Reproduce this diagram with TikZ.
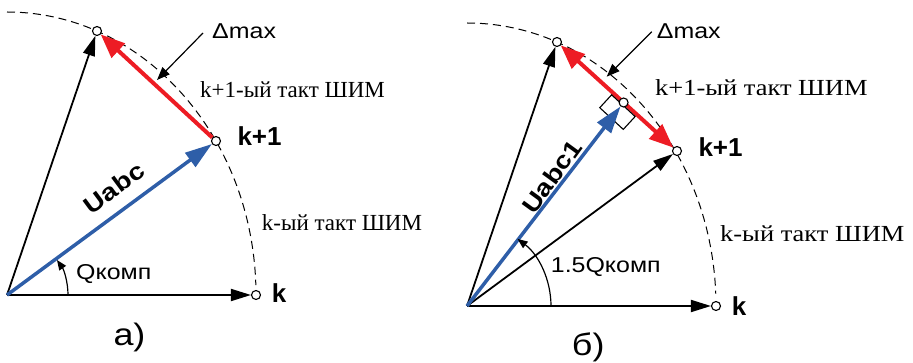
\documentclass[tikz,border=0pt]{standalone}
\usepackage{fontspec}
\setmainfont{Liberation Serif}
\newfontfamily\serifwide[FakeStretch=1.15]{Liberation Serif}
\newfontfamily\arialf[FakeStretch=1.16]{Liberation Sans}
\newfontfamily\arialb[FakeStretch=1.0]{Liberation Sans}
\usetikzlibrary{arrows.meta,calc,backgrounds}
\definecolor{vblue}{RGB}{46,94,168}
\definecolor{vred}{RGB}{237,28,36}
\tikzset{
  pt/.style={circle,draw,fill=white,inner sep=0pt,minimum size=9pt,line width=1.1pt},
  vec/.style={line width=1.8pt,-{Triangle[length=20pt,width=12pt]}},
  bvec/.style={vblue,line width=3.5pt,-{Triangle[length=27pt,width=17pt]}},
  rvec/.style={vred,line width=4pt,-{Triangle[length=24pt,width=19pt]}},
  rvecb/.style={vred,line width=4pt,{Triangle[length=24pt,width=19pt]}-{Triangle[length=24pt,width=19pt]}},
  lead/.style={line width=1.2pt,-{Triangle[length=13pt,width=10pt]}},
  angarr/.style={line width=1.2pt,-{Triangle[length=10pt,width=8pt]}},
  arcd/.style={line width=1pt,dash pattern=on 8pt off 5pt},
  lbl/.style={anchor=base west,inner sep=0pt},
  sans/.style={font=\arialf\fontsize{21.5}{26}\selectfont},
  sansb/.style={font=\arialb\bfseries\fontsize{26}{30}\selectfont},
  vlab/.style={font=\arialf\bfseries\fontsize{24}{28}\selectfont},
  serif/.style={font=\fontsize{23}{27}\selectfont},
  serifw/.style={font=\serifwide\fontsize{23}{27}\selectfont},
  captxt/.style={font=\arialf\fontsize{31}{35}\selectfont},
}
\begin{document}
\begin{tikzpicture}[x=1pt,y=1pt]
\useasboundingbox (0,0) rectangle (913,362);
% ---------------- panel a ----------------
\coordinate (Oa) at (7,67);
\node[pt] (ka) at (256,67) {};
\node[pt] (kpa) at (216,221) {};
\node[pt] (ta) at (97,331) {};
\coordinate (la1) at (203,329);
\coordinate (la2) at (157,282);
\begin{pgfonlayer}{background}
\draw[arcd] ($(Oa)+(0,283)$) arc[start angle=90,end angle=2,x radius=249pt,y radius=283pt];
\draw[vec] (Oa) -- (ka);
\draw[vec] (Oa) -- (ta);
\draw[bvec] (Oa) -- (kpa);
\draw[rvec] (kpa) -- (ta);
\draw[lead] (la1) -- (la2);
\draw[angarr] ($(Oa)+(61,0)$) arc[start angle=0,end angle=35,radius=61pt];
\end{pgfonlayer}
\node[lbl,sans] (dma) at (212,323) {Δmax};
\node[lbl,serif] (t1a) at (200,264.7) {k+1-ый такт ШИМ};
\node[lbl,sansb] (kpla) at (237.3,216.5) {k+1};
\node[lbl,serif] (t0a) at (261.7,132) {k-ый такт ШИМ};
\node[lbl,sans] (qa) at (76,82.7) {Qкомп};
\node[lbl,sansb] (kla) at (271.7,59.3) {k};
\node[lbl,captxt] (capa) at (113.3,17) {а)};
\node[vlab,rotate=36.5] (ua) at (114,174) {Uabc};
% ---------------- panel b ----------------
\coordinate (Ob) at (467,56);
\node[pt] (kb) at (716,56) {};
\node[pt] (kpb) at (677,211) {};
\node[pt] (tb) at (557,320) {};
\node[pt] (mb) at ($(tb)!0.555!(kpb)$) {};
\coordinate (lb1) at (651.7,330.3);
\coordinate (lb2) at (606.7,285.3);
\begin{pgfonlayer}{background}
\draw[arcd] ($(Ob)+(0,283)$) arc[start angle=90,end angle=2.5,x radius=249pt,y radius=283pt];
\draw[vec] (Ob) -- (kb);
\draw[vec] (Ob) -- (tb);
\draw[vec] (Ob) -- (kpb);
\draw[rvecb] (tb) -- (kpb);
\begin{scope}[shift={(mb)},rotate=-42.7]
\draw[line width=1.1pt] (-14,-2.5) rectangle (18,-20);
\end{scope}
\draw[bvec] (Ob) -- (mb);
\draw[lead] (lb1) -- (lb2);
\draw[angarr] ($(Ob)+(84,0)$) arc[start angle=0,end angle=53,radius=84pt];
\end{pgfonlayer}
\node[lbl,sans] (dmb) at (656.7,323) {Δmax};
\node[lbl,serifw] (t1b) at (655,266) {k+1-ый такт ШИМ};
\node[lbl,sansb] (kplb) at (698.3,205) {k+1};
\node[lbl,serifw] (t0b) at (720,120.3) {k-ый такт ШИМ};
\node[lbl,sans] (qb) at (550.7,89.3) {1.5Qкомп};
\node[lbl,sansb] (klb) at (731.7,47) {k};
\node[lbl,captxt] (capb) at (571.7,7) {б)};
\node[vlab,rotate=54] (ub) at (551.7,185.3) {Uabc1};
\end{tikzpicture}
\end{document}
